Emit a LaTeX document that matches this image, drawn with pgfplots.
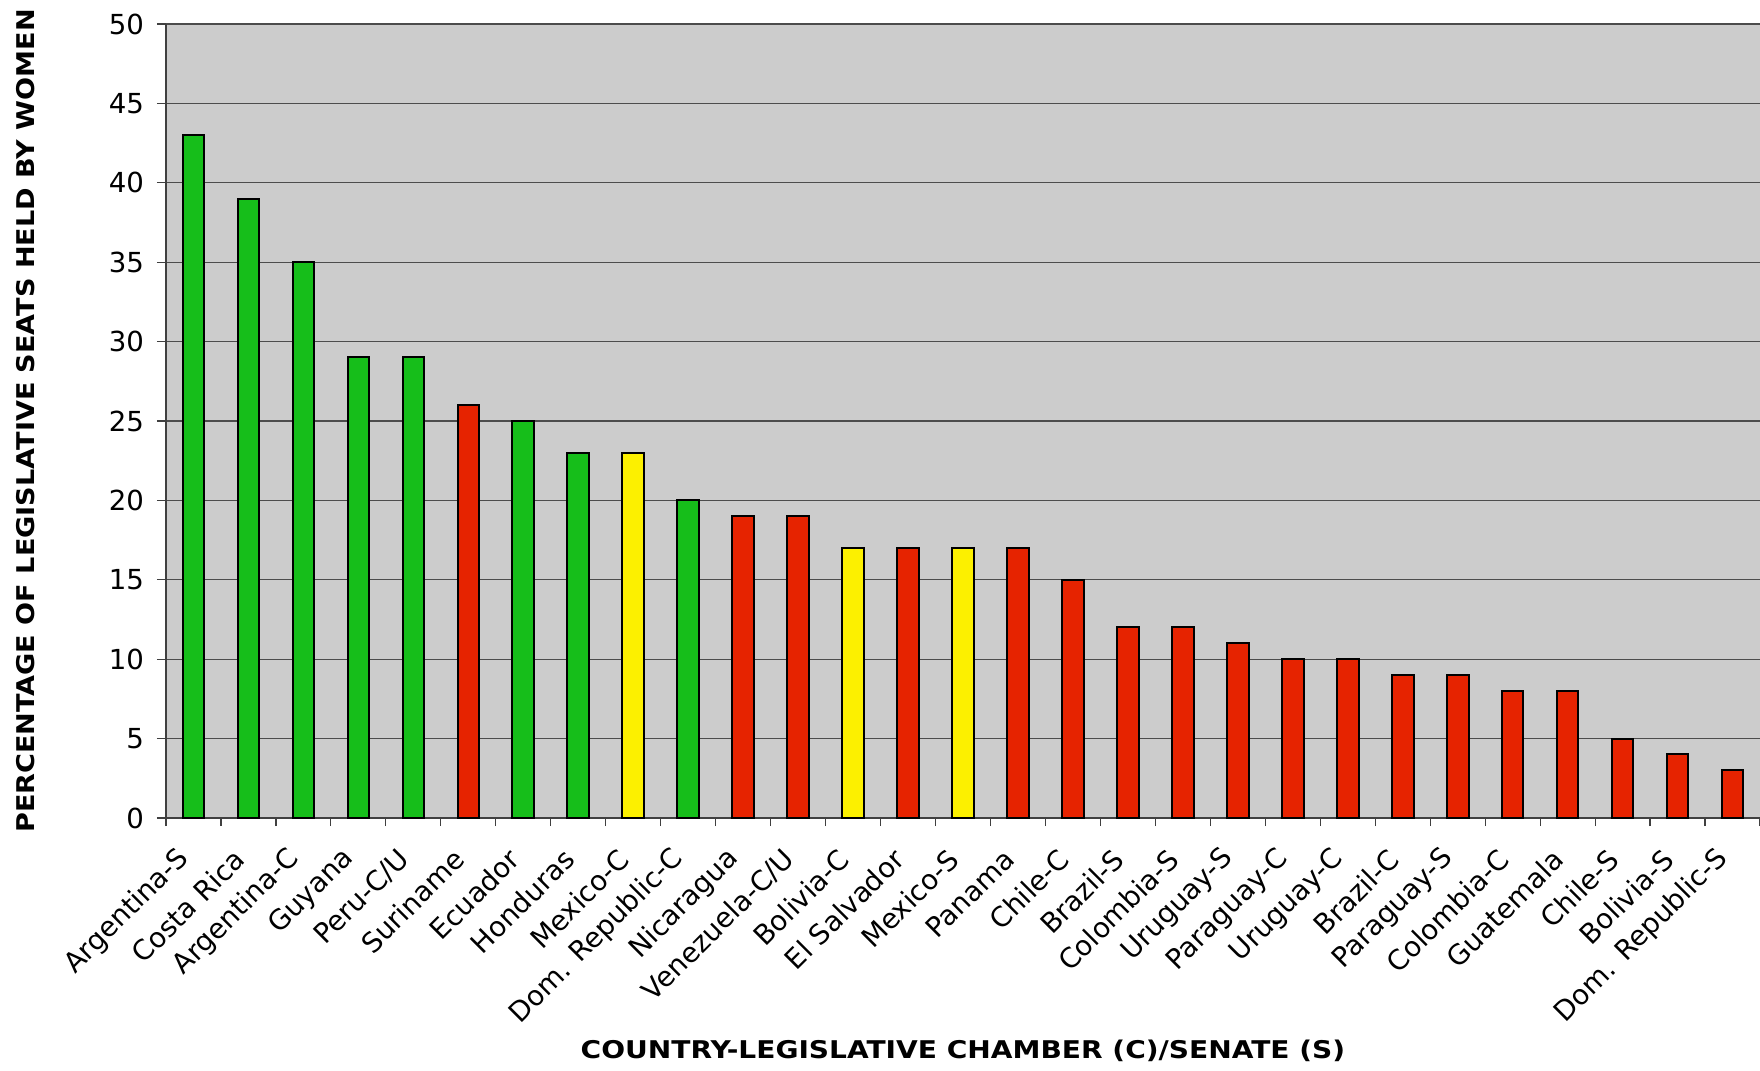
\documentclass[border=0pt]{standalone}
\usepackage{graphicx}
\usepackage{pgfplots}
\pgfplotsset{compat=1.18}
\usepackage{fontspec}
\setmainfont{DejaVu Sans}

\definecolor{barGreen}{RGB}{22,190,26}
\definecolor{barRed}{RGB}{230,35,0}
\definecolor{barYellow}{RGB}{252,240,0}
\definecolor{plotBg}{RGB}{204,204,204}

\begin{document}
\begin{tikzpicture}
\begin{axis}[
  name=ax,
  scale only axis,
  width=797pt, height=397pt,
  xmin=-0.5, xmax=28.5,
  ymin=0, ymax=50,
  axis background/.style={fill=plotBg},
  axis lines*=left,
  axis line style={-, draw=black!75, line width=0.6pt},
  ytick={0,5,...,50},
  ymajorgrids,
  grid style={draw=black!70, line width=0.6pt},
  tick align=outside,
  tick pos=left,
  major tick length=4.5pt,
  ytick style={draw=black!75, line width=0.6pt},
  /pgf/number format/assume math mode=true,
  yticklabel style={font=\fontsize{13.8}{16}\selectfont, xshift=-3pt},
  xtick={0,...,28},
  xtick style={draw=none},
  xticklabels={Argentina-S,Costa Rica,Argentina-C,Guyana,Peru-C/U,Suriname,Ecuador,Honduras,Mexico-C,Dom. Republic-C,Nicaragua,Venezuela-C/U,Bolivia-C,El Salvador,Mexico-S,Panama,Chile-C,Brazil-S,Colombia-S,Uruguay-S,Paraguay-C,Uruguay-C,Brazil-C,Paraguay-S,Colombia-C,Guatemala,Chile-S,Bolivia-S,Dom. Republic-S},
  xticklabel style={xshift=-2pt, yshift=-11.2pt, rotate=45, anchor=east, font=\fontsize{13.8}{16}\selectfont},
  extra x ticks={-0.5,0.5,...,28.5},
  extra x tick labels={},
  extra x tick style={xtick style={draw=black!75, line width=0.6pt}, major tick length=4pt},
  ylabel={\scalebox{1.11}[1]{PERCENTAGE OF LEGISLATIVE SEATS HELD BY WOMEN}},
  ylabel style={at={(axis description cs:-0.0881,0.5)}, anchor=center, rotate=0, font=\fontsize{12.2}{14}\selectfont\bfseries},
  xlabel={\scalebox{1.15}[1]{COUNTRY-LEGISLATIVE CHAMBER (C)/SENATE (S)}},
  xlabel style={at={(axis description cs:0.5,-0.3035)}, anchor=base, font=\fontsize{12.2}{14}\selectfont\bfseries},
  ybar, bar width=10.8pt, bar shift=0pt,
  every axis plot/.append style={draw=black, line width=1pt},
]
% quota with strong enforcement
\addplot[fill=barGreen] coordinates {(0,43) (1,39) (2,35) (3,29) (4,29) (6,25) (7,23) (9,20)};
% no quota
\addplot[fill=barRed] coordinates {(5,26) (10,19) (11,19) (13,17) (15,17) (16,15) (17,12) (18,12) (19,11) (20,10) (21,10) (22,9) (23,9) (24,8) (25,8) (26,5) (27,4) (28,3)};
% quota with weak enforcement
\addplot[fill=barYellow] coordinates {(8,23) (12,17) (14,17)};
\end{axis}
\pgfresetboundingbox
\path (ax.south west) ++(-83pt,-126pt) rectangle ++(880pt,535pt);
\end{tikzpicture}
\end{document}
